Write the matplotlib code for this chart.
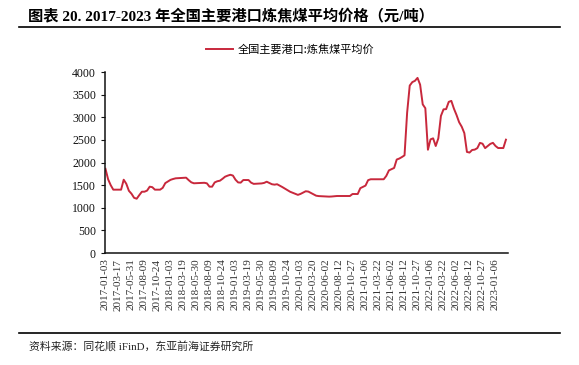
import numpy as np
import matplotlib
matplotlib.use("Agg")
import matplotlib.pyplot as plt

plt.rcParams['font.family'] = ['Liberation Serif', 'Noto Sans CJK SC', 'DejaVu Sans']

# 全国主要港口炼焦煤平均价，每10个交易日取一个点（元/吨）
price = [
    1860, 1630, 1500, 1400, 1400, 1400, 1400, 1620, 1530, 1375,
    1310, 1220, 1200, 1280, 1355, 1355, 1380, 1466, 1455, 1400,
    1400, 1400, 1440, 1545, 1580, 1617, 1636, 1651, 1654, 1658,
    1661, 1665, 1610, 1562, 1541, 1544, 1547, 1550, 1552, 1540,
    1466, 1466, 1560, 1586, 1598, 1640, 1687, 1710, 1729, 1712,
    1620, 1560, 1555, 1613, 1613, 1613, 1555, 1528, 1531, 1534,
    1538, 1549, 1576, 1548, 1520, 1511, 1520, 1490, 1458, 1423,
    1389, 1354, 1330, 1308, 1285, 1306, 1335, 1365, 1358, 1328,
    1298, 1267, 1258, 1255, 1252, 1249, 1246, 1249, 1255, 1260,
    1260, 1260, 1260, 1260, 1260, 1304, 1304, 1304, 1433, 1462,
    1490, 1610, 1630, 1630, 1630, 1630, 1630, 1630, 1705, 1826,
    1853, 1880, 2066, 2088, 2121, 2159, 3100, 3700, 3777, 3805,
    3870, 3720, 3285, 3200, 2282, 2512, 2534, 2365, 2534, 3030,
    3175, 3180, 3340, 3362, 3190, 3050, 2890, 2791, 2650, 2234,
    2220, 2277, 2285, 2318, 2434, 2416, 2318, 2365, 2412, 2435,
    2365, 2320, 2320, 2320, 2505,
]

tick_labels = [
    "2017-01-03", "2017-03-17", "2017-05-31", "2017-08-09", "2017-10-24",
    "2018-01-03", "2018-03-19", "2018-05-30", "2018-08-09", "2018-10-24",
    "2019-01-03", "2019-03-19", "2019-05-30", "2019-08-09", "2019-10-24",
    "2020-01-03", "2020-03-20", "2020-06-02", "2020-08-12", "2020-10-27",
    "2021-01-06", "2021-03-22", "2021-06-02", "2021-08-12", "2021-10-27",
    "2022-01-06", "2022-03-22", "2022-06-02", "2022-08-12", "2022-10-27",
    "2023-01-06",
]

series_name = "全国主要港口:炼焦煤平均价"
title = "图表 20. 2017-2023 年全国主要港口炼焦煤平均价格（元/吨）"
source = "资料来源：同花顺 iFinD，东亚前海证券研究所"

fig = plt.figure(figsize=(5.79, 3.65), dpi=100)
ax = fig.add_axes([0.1813, 0.3068, 0.6961, 0.4959])

x = np.arange(len(price))
ax.plot(x, price, color="#c8283c", lw=1.4, label=series_name)

ax.set_ylim(0, 4000)
ax.set_yticks(np.arange(0, 4001, 500))
ax.set_xlim(-0.2, len(price) - 0.2)
ax.set_xticks(np.arange(len(tick_labels)) * 5)
ax.set_xticklabels(tick_labels, rotation=90, fontsize=8, color="#333333")
ax.tick_params(axis="x", length=0, pad=4)
ax.tick_params(axis="y", direction="out", length=3, labelsize=8.5, colors="#111111")

for s in ["top", "right"]:
    ax.spines[s].set_visible(False)
for s in ["left", "bottom"]:
    ax.spines[s].set_linewidth(1.1)
    ax.spines[s].set_color("#111111")

ax.legend(loc="lower center", bbox_to_anchor=(0.46, 1.04), frameon=False,
          prop={"family": ["Noto Sans CJK SC"], "size": 8}, handlelength=2.4,
          handletextpad=0.5)

fig.text(0.048, 0.957, title, fontsize=11, fontweight="bold", va="center", ha="left")
fig.add_artist(plt.Line2D([0.032, 0.968], [0.925, 0.925], color="black", lw=1.2))
fig.add_artist(plt.Line2D([0.032, 0.968], [0.088, 0.088], color="black", lw=1.2))
fig.text(0.05, 0.052, source, fontsize=7.8, va="center", ha="left",
         family=["Liberation Serif", "Noto Sans CJK SC"], color="#222222")

fig.savefig("out.png", dpi=100)
